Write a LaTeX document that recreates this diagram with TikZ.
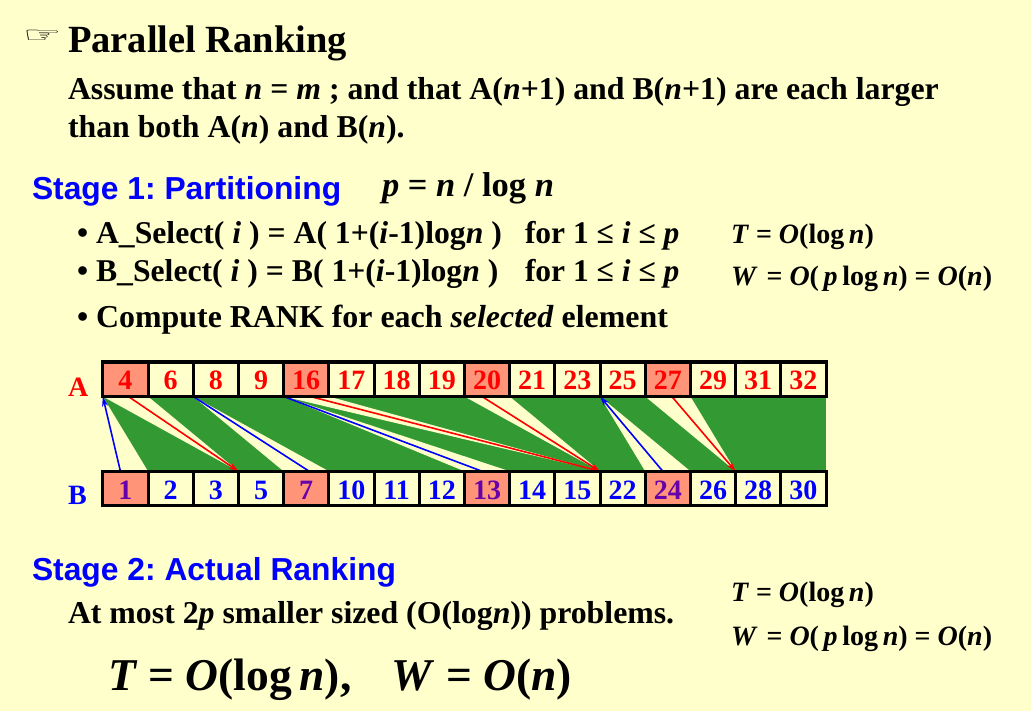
\documentclass[tikz,border=0pt]{standalone}
\usepackage{fontspec}
\setmainfont{Liberation Serif}
\newfontfamily\arialf{Liberation Sans}
\newfontfamily\dejaf{DejaVu Sans}
\usetikzlibrary{arrows.meta,calc}
\definecolor{pagebg}{HTML}{FFFFCC}
\definecolor{bandgreen}{HTML}{339933}
\definecolor{hilite}{HTML}{FF9478}
\definecolor{purplenum}{HTML}{6600AA}
\frenchspacing
\newcommand{\fs}[1]{\fontsize{#1}{#1}\selectfont\bfseries}
\newcommand{\mi}[1]{\textit{#1}}
\pgfdeclarelayer{pagelayer}
\pgfdeclarelayer{bandlayer}
\pgfsetlayers{pagelayer,bandlayer,main}
\tikzset{
  txt/.style={inner sep=0pt,outer sep=0pt,anchor=base west,text=black},
  cell/.style={draw=black,line width=3pt,outer sep=0pt,minimum width=45.2pt,minimum height=34.5pt,inner sep=0pt,text height=21pt,text depth=0pt,font=\fs{28}},
  redline/.style={draw=red,line width=1.6pt},
  blueline/.style={draw=blue,line width=1.6pt},
  tip/.style={-{Stealth[length=10pt,width=6pt]}}
}
\begin{document}
\begin{tikzpicture}[x=1pt,y=-1pt]
\useasboundingbox (0,0) rectangle (1031,711);
\begin{pgfonlayer}{pagelayer}
\fill[pagebg] (0,0) rectangle (1031,711);
\end{pgfonlayer}
% texts
\node[txt] (hand) at (23,42.5) {\dejaf\fontsize{36}{36}\selectfont\scalebox{1.2}[0.6]{☞}};
\node[txt] (title) at (68,52.5) {\fs{38.5}Parallel Ranking};
\node[txt] (l1) at (68,100) {\fs{31.8}Assume that \mi{n} = \mi{m} ; and that A(\mi{n}+1) and B(\mi{n}+1) are each larger};
\node[txt] (l2) at (68,138) {\fs{31.8}than both A(\mi{n}) and B(\mi{n}).};
\node[txt,text=blue] (s1) at (32,200) {\arialf\fs{31.8}Stage 1: Partitioning};
\node[txt] (pf) at (382,197) {\fs{34.5}\mi{p} = \mi{n} / log \mi{n}};
\node[txt] (b1) at (77,244) {\fs{31.7}• A\_Select( \mi{i} ) = A( 1+(\mi{i}-1)log\mi{n} )};
\node[txt] (b1r) at (525,244) {\fs{31.5}for 1 ≤ \mi{i} ≤ \mi{p}};
\node[txt] (b2) at (77,282) {\fs{31.7}• B\_Select( \mi{i} ) = B( 1+(\mi{i}-1)log\mi{n} )};
\node[txt] (b2r) at (525,282) {\fs{31.5}for 1 ≤ \mi{i} ≤ \mi{p}};
\node[txt] (b3) at (77,327) {\fs{31.9}• Compute RANK for each \mi{selected} element};
\node[txt] (t1) at (731,244) {\fs{28}\mi{T} = \mi{O}(log\,\mi{n})};
\node[txt] (w1) at (731,286) {\fs{28}\mi{W}\hspace{2pt} = \mi{O}(\,\mi{p}\,log\,\mi{n}) = \mi{O}(\mi{n})};
\node[txt,text=red] (la) at (68,396) {\fs{28}A};
\node[txt,text=blue] (lb) at (68,504) {\fs{28}B};
\node[txt,text=blue] (s2) at (32,580) {\arialf\fs{31.8}Stage 2: Actual Ranking};
\node[txt] (s2a) at (68,623) {\fs{31.8}At most 2\mi{p} smaller sized (O(log\mi{n})) problems.};
\node[txt] (t2) at (731,601) {\fs{28}\mi{T} = \mi{O}(log\,\mi{n})};
\node[txt] (w2) at (731,645) {\fs{28}\mi{W}\hspace{2pt} = \mi{O}(\,\mi{p}\,log\,\mi{n}) = \mi{O}(\mi{n})};
\node[txt] (big) at (108,690) {\fs{45.5}\mi{T} = \mi{O}(log\,\mi{n}),\hspace{40pt}\mi{W} = \mi{O}(\mi{n})};
% cells
\foreach \v [count=\i] in {4,6,8,9,16,17,18,19,20,21,23,25,27,29,31,32} {
  \pgfmathsetmacro{\cx}{102.8+45.2*(\i-0.5)}
  \pgfmathtruncatemacro{\ish}{mod(\i-1,4)==0 ? 1 : 0}
  \ifnum\ish=1
    \node[cell,fill=hilite,text=red] (a\i) at (\cx,379.25) {\v};
  \else
    \node[cell,text=red] (a\i) at (\cx,379.25) {\v};
  \fi
}
\foreach \v [count=\i] in {1,2,3,5,7,10,11,12,13,14,15,22,24,26,28,30} {
  \pgfmathsetmacro{\cx}{102.8+45.2*(\i-0.5)}
  \pgfmathtruncatemacro{\ish}{mod(\i-1,4)==0 ? 1 : 0}
  \ifnum\ish=1
    \node[cell,fill=hilite,text=purplenum] (b\i) at (\cx,488.5) {\v};
  \else
    \node[cell,text=blue] (b\i) at (\cx,488.5) {\v};
  \fi
}
\begin{pgfonlayer}{bandlayer}
% band
\fill[bandgreen] (a1.south west) rectangle (b16.north east);
\fill[pagebg] (a1.south west) -- (b1.north west) -- (b1.north east) -- cycle;
\fill[pagebg] (a1.south west) -- (a1.south east) -- (b3.north east) -- cycle;
\fill[pagebg] (a3.south west) -- (b5.north west) -- (b5.north east) -- cycle;
\fill[pagebg] (a5.south west) -- (b9.north west) -- (b9.north east) -- cycle;
\fill[pagebg] (a5.south west) -- (a5.south east) -- (b11.north east) -- cycle;
\fill[pagebg] (a9.south west) -- (a9.south east) -- (b11.north east) -- cycle;
\fill[pagebg] (a11.south east) -- (b13.north west) -- (b13.north east) -- cycle;
\fill[pagebg] (a13.south west) -- (a13.south east) -- (b14.north east) -- cycle;
% connectors
\draw[blueline,tip] ($(b1.north)+(-5,0)$) -- (a1.south west);
\draw[redline,tip] ($(a1.south)+(3,0)$) -- (b3.north east);
\draw[blueline] (a3.south west) -- ($(b5.north)+(3,0)$);
\draw[blueline] (a5.south west) -- ($(b9.north)+(-5,0)$);
\draw[redline,tip] ($(a5.south)+(4,0)$) -- (b11.north east);
\draw[redline,tip] ($(a9.south)+(-5,0)$) -- (b11.north east);
\draw[blueline,tip] ($(b13.north)+(-5,0)$) -- (a11.south east);
\draw[redline,tip] ($(a13.south)+(4,0)$) -- (b14.north east);
\end{pgfonlayer}
\end{tikzpicture}
\end{document}
